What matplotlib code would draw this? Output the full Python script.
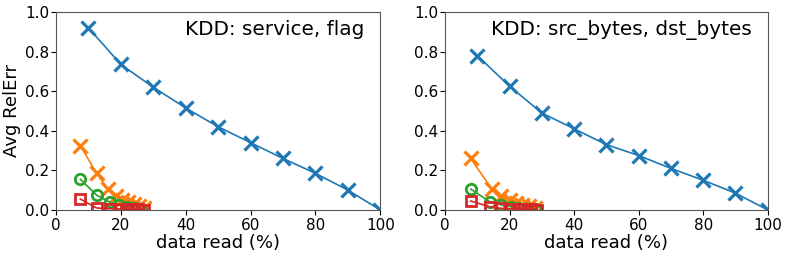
import matplotlib
matplotlib.use('Agg')
import matplotlib.pyplot as plt

# left panel: KDD service, flag / right panel: src_bytes, dst_bytes
titles = ['KDD: service, flag', 'KDD: src_bytes, dst_bytes']

blue_x = [10, 20, 30, 40, 50, 60, 70, 80, 90, 100]
blue_y_left = [0.92, 0.735, 0.62, 0.515, 0.42, 0.34, 0.26, 0.185, 0.10, 0.0]
blue_y_right = [0.78, 0.625, 0.49, 0.41, 0.33, 0.275, 0.21, 0.15, 0.085, 0.0]

orange_x_left = [7.5, 12.5, 16, 18.5, 20.5, 22.3, 24, 25.5, 27]
orange_y_left = [0.325, 0.185, 0.105, 0.07, 0.05, 0.038, 0.028, 0.018, 0.008]
green_x_left = [7.5, 12.5, 16.5, 19.5, 22, 24.2, 26.3]
green_y_left = [0.155, 0.075, 0.04, 0.025, 0.015, 0.008, 0.004]
red_x_left = [7.5, 12.5, 16.5, 19.5, 21.5, 23.3, 25.2, 27]
red_y_left = [0.055, 0.01, 0.006, 0.005, 0.004, 0.003, 0.003, 0.002]

orange_x_right = [8, 14.5, 17.5, 20, 22, 24, 26, 28]
orange_y_right = [0.26, 0.105, 0.07, 0.05, 0.037, 0.027, 0.018, 0.008]
green_x_right = [8, 14, 17.5, 20.5, 23, 25.5, 28]
green_y_right = [0.105, 0.04, 0.025, 0.017, 0.01, 0.006, 0.003]
red_x_right = [8, 14, 17.5, 20, 22.5, 24.5, 26.5, 28.5]
red_y_right = [0.045, 0.015, 0.008, 0.006, 0.004, 0.003, 0.003, 0.002]

panels = [
    (blue_y_left, orange_x_left, orange_y_left, green_x_left, green_y_left, red_x_left, red_y_left),
    (blue_y_right, orange_x_right, orange_y_right, green_x_right, green_y_right, red_x_right, red_y_right),
]

fig = plt.figure(figsize=(7.89, 2.56), dpi=100)
ax1 = fig.add_axes([0.071, 0.18, 0.411, 0.773])
ax2 = fig.add_axes([0.564, 0.18, 0.409, 0.773])

for ax, title, (by, ox, oy, gx, gy, rx, ry) in zip([ax1, ax2], titles, panels):
    ax.plot(blue_x, by, color='tab:blue', marker='x', ms=9.5, mew=2.3, lw=1.2)
    ax.plot(ox, oy, color='tab:orange', marker='x', ms=9.5, mew=2.3, lw=1.2)
    ax.plot(gx, gy, color='tab:green', marker='o', ms=7.5, mew=2, mfc='none', lw=1.2)
    ax.plot(rx, ry, color='tab:red', marker='s', ms=7.5, mew=2, mfc='none', lw=1.2)
    ax.set_xlim(0, 100)
    ax.set_ylim(0, 1.0)
    ax.set_xticks([0, 20, 40, 60, 80, 100])
    ax.set_yticks([0.0, 0.2, 0.4, 0.6, 0.8, 1.0])
    ax.tick_params(labelsize=11)
    ax.tick_params(axis='y', pad=1.5)
    ax.tick_params(axis='x', pad=2)
    ax.set_xlabel('data read (%)', fontsize=13, labelpad=1)
    ax.text(0.95, 0.96, title, transform=ax.transAxes, ha='right', va='top', fontsize=14.4)
    for s in ax.spines.values():
        s.set_color('#555555')

ax1.set_ylabel('Avg RelErr', fontsize=13, labelpad=3)

plt.savefig('out.png', dpi=100)
